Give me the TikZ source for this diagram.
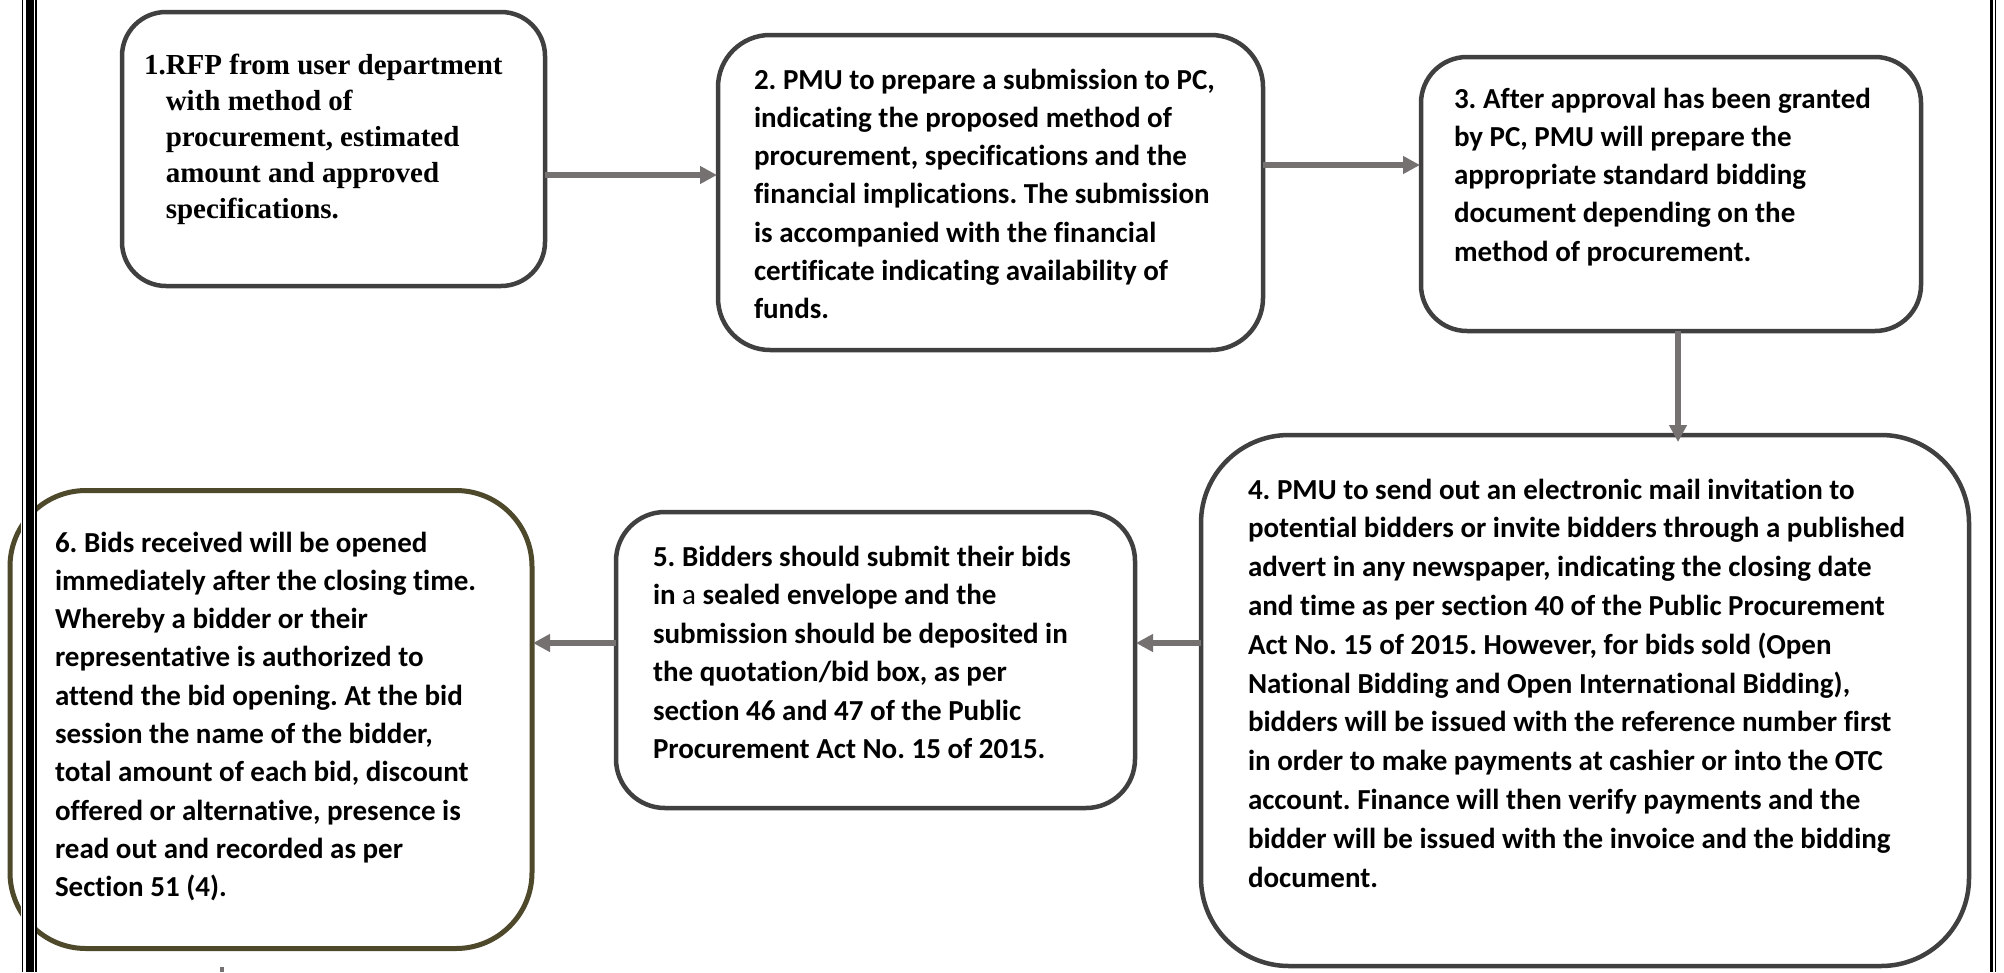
\documentclass[tikz,border=0pt]{standalone}
\usepackage{fontspec}
\setmainfont{Carlito}[Ligatures={NoCommon,NoContextual}]
\newfontfamily\tnr{Liberation Serif}[Ligatures={NoCommon}]
\usetikzlibrary{arrows.meta}
\definecolor{boxgray}{RGB}{64,64,64}
\definecolor{arrgray}{RGB}{118,113,113}
\definecolor{oliveb}{RGB}{79,73,44}
\newcommand\btext[2]{{\fontsize{29}{#1}\selectfont\begin{tabular}[t]{@{}l@{}}#2\end{tabular}}}
\tikzset{
  boxst/.style={draw=boxgray, line width=4.5pt, fill=white, inner sep=0pt, outer sep=0pt, shape=rectangle},
  txt/.style={anchor=base west, inner sep=0pt, outer sep=0pt, font=\bfseries},
  arr/.style={draw=arrgray, line width=5.5pt, shorten >=1pt, -{Triangle[length=17pt,width=17pt]}},
  stub/.style={draw=arrgray, line width=4pt},
  bord/.style={draw=black},
}
\frenchspacing
\begin{document}
\begin{tikzpicture}[x=1pt,y=-1pt]
\useasboundingbox (0,0) rectangle (2004,972);
\fill[white] (0,0) rectangle (2004,972);

% boxes
\node[boxst, rounded corners=44pt, minimum width=423pt, minimum height=274pt] (b1) at (333.5,149) {};
\node[boxst, rounded corners=52pt, minimum width=545pt, minimum height=315pt] (b2) at (990.5,192.5) {};
\node[boxst, rounded corners=46pt, minimum width=500pt, minimum height=274pt] (b3) at (1671,194) {};
\node[boxst, rounded corners=88pt, minimum width=768pt, minimum height=531pt] (b4) at (1585,700.5) {};
\node[boxst, rounded corners=49pt, minimum width=519pt, minimum height=296pt] (b5) at (875.5,660) {};
\node[boxst, draw=oliveb, line width=5pt, rounded corners=76pt, minimum width=522pt, minimum height=458pt] (b6) at (271,719.5) {};

% texts
\node[txt, font=\tnr\bfseries] (t1) at (144,74) {{\fontsize{29}{36}\selectfont\begin{tabular}[t]{@{}l@{}l@{}}1.&RFP from user department\\&with method of\\&procurement, estimated\\&amount and approved\\&specifications.\end{tabular}}};
\node[txt] (t2) at (754,89) {\btext{38.3}{2. PMU to prepare a submission to PC,\\indicating the proposed method of\\procurement, specifications and the\\financial implications. The submission\\is accompanied with the financial\\certificate indicating availability of\\funds.}};
\node[txt] (t3) at (1454,108) {\btext{38.3}{3. After approval has been granted\\by PC, PMU will prepare the\\appropriate standard bidding\\document depending on the\\method of procurement.}};
\node[txt] (t4) at (1248,499) {\btext{38.8}{4. PMU to send out an electronic mail invitation to\\potential bidders or invite bidders through a published\\advert in any newspaper, indicating the closing date\\and time as per section 40 of the Public Procurement\\Act No. 15 of 2015. However, for bids sold (Open\\National Bidding and Open International Bidding),\\bidders will be issued with the reference number first\\in order to make payments at cashier or into the OTC\\account. Finance will then verify payments and the\\bidder will be issued with the invoice and the bidding\\document.}};
\node[txt] (t5) at (653,566) {\btext{38.5}{5. Bidders should submit their bids\\in \textmd{a} sealed envelope and the\\submission should be deposited in\\the quotation/bid box, as per\\section 46 and 47 of the Public\\Procurement Act No. 15 of 2015.}};
\node[txt] (t6) at (55,552) {\btext{38.3}{6. Bids received will be opened\\immediately after the closing time.\\Whereby a bidder or their\\representative is authorized to\\attend the bid opening. At the bid\\session the name of the bidder,\\total amount of each bid, discount\\offered or alternative, presence is\\read out and recorded as per\\Section 51 (4).}};

% connectors
\draw[arr] (b1.east |- 0,175) -- (b2.west |- 0,175);
\draw[arr] (b2.east |- 0,165) -- (b3.west |- 0,165);
\draw[arr, shorten >=-7pt] (b3.south -| 1678,0) -- (b4.north -| 1678,0);
\draw[arr] (b4.west |- 0,643) -- (b5.east |- 0,643);
\draw[arr] (b5.west |- 0,643) -- (b6.east |- 0,643);
\coordinate (s6a) at (222,967);
\coordinate (s6b) at (222,972);
\draw[stub] (s6a) -- (s6b);

% page border lines
\fill[white] (21,0) rectangle (37,972);
\draw[bord, line width=1.6pt] (22.5,0) -- (22.5,972);
\draw[bord, line width=8pt] (30,0) -- (30,972);
\draw[bord, line width=1.6pt] (36.2,0) -- (36.2,972);
\draw[bord, line width=3.5pt] (1991.5,0) -- (1991.5,972);
\draw[bord, line width=1.2pt] (1995.5,0) -- (1995.5,972);
\end{tikzpicture}
\end{document}
